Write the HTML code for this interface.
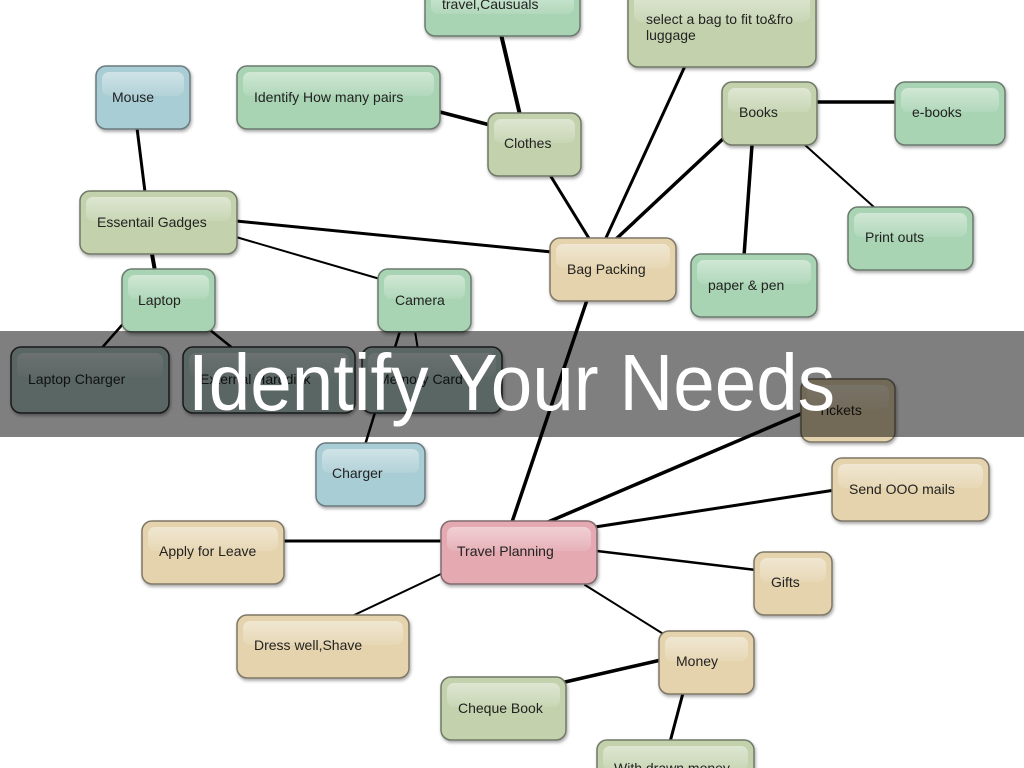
<!DOCTYPE html>
<html><head><meta charset="utf-8"><style>
html,body{margin:0;padding:0;background:#fff;}
svg{display:block;}
text{font-family:"Liberation Sans",sans-serif;}
</style></head><body>
<svg width="1024" height="768" viewBox="0 0 1024 768" xmlns="http://www.w3.org/2000/svg">
<defs>
<linearGradient id="hl" x1="0" y1="0" x2="0" y2="1"><stop offset="0" stop-color="#fff" stop-opacity="0.45"/><stop offset="1" stop-color="#fff" stop-opacity="0.1"/></linearGradient>
<filter id="sh" x="-10%" y="-10%" width="130%" height="140%"><feDropShadow dx="1" dy="2" stdDeviation="1.5" flood-color="#000" flood-opacity="0.35"/></filter>
</defs>
<g stroke="#000" fill="none" stroke-linecap="round">
<line x1="500" y1="30" x2="520" y2="115" stroke-width="4"/>
<line x1="440" y1="112" x2="490" y2="125" stroke-width="3.5"/>
<line x1="550" y1="175" x2="590" y2="240" stroke-width="3"/>
<line x1="685" y1="66" x2="605" y2="240" stroke-width="3"/>
<line x1="725" y1="137" x2="615" y2="240" stroke-width="3.5"/>
<line x1="815" y1="102" x2="897" y2="102" stroke-width="3.5"/>
<line x1="752" y1="145" x2="744" y2="256" stroke-width="3.5"/>
<line x1="805" y1="145" x2="875" y2="208" stroke-width="2"/>
<line x1="137" y1="128" x2="145" y2="192" stroke-width="3"/>
<line x1="236" y1="221" x2="552" y2="252" stroke-width="3"/>
<line x1="236" y1="237" x2="380" y2="279" stroke-width="2"/>
<line x1="152" y1="254" x2="155" y2="271" stroke-width="4"/>
<line x1="122" y1="325" x2="100" y2="350" stroke-width="2.5"/>
<line x1="210" y1="330" x2="235" y2="350" stroke-width="2.5"/>
<line x1="400" y1="331" x2="365" y2="445" stroke-width="2.5"/>
<line x1="415" y1="331" x2="418" y2="350" stroke-width="2"/>
<line x1="587" y1="300" x2="512" y2="522" stroke-width="3.5"/>
<line x1="548" y1="522" x2="810" y2="410" stroke-width="3.5"/>
<line x1="595" y1="527" x2="835" y2="490" stroke-width="3"/>
<line x1="283" y1="541" x2="443" y2="541" stroke-width="3"/>
<line x1="597" y1="551" x2="756" y2="570" stroke-width="2.5"/>
<line x1="443" y1="573" x2="350" y2="617" stroke-width="2"/>
<line x1="585" y1="585" x2="665" y2="635" stroke-width="2"/>
<line x1="565" y1="682" x2="661" y2="660" stroke-width="3.5"/>
<line x1="683" y1="693" x2="670" y2="742" stroke-width="3"/>
</g>
<g font-size="14" fill="#222">
<g filter="url(#sh)">
<rect x="425" y="-12" width="155" height="48" rx="10" fill="#a9d4b3" stroke="#6b7a6e" stroke-width="1.5"/>
<rect x="628" y="-12" width="188" height="79" rx="10" fill="#c3d2ad" stroke="#6f7866" stroke-width="1.5"/>
<rect x="96" y="66" width="94" height="63" rx="10" fill="#a9cdd4" stroke="#6a7a7e" stroke-width="1.5"/>
<rect x="237" y="66" width="203" height="63" rx="10" fill="#a9d4b3" stroke="#6b7a6e" stroke-width="1.5"/>
<rect x="488" y="113" width="93" height="63" rx="10" fill="#c3d2ad" stroke="#6f7866" stroke-width="1.5"/>
<rect x="722" y="82" width="95" height="63" rx="10" fill="#c3d2ad" stroke="#6f7866" stroke-width="1.5"/>
<rect x="895" y="82" width="110" height="63" rx="10" fill="#a9d4b3" stroke="#6b7a6e" stroke-width="1.5"/>
<rect x="80" y="191" width="157" height="63" rx="10" fill="#c3d2ad" stroke="#6f7866" stroke-width="1.5"/>
<rect x="550" y="238" width="126" height="63" rx="10" fill="#e4d3ad" stroke="#7f7766" stroke-width="1.5"/>
<rect x="848" y="207" width="125" height="63" rx="10" fill="#a9d4b3" stroke="#6b7a6e" stroke-width="1.5"/>
<rect x="691" y="254" width="126" height="63" rx="10" fill="#a9d4b3" stroke="#6b7a6e" stroke-width="1.5"/>
<rect x="122" y="269" width="93" height="63" rx="10" fill="#a9d4b3" stroke="#6b7a6e" stroke-width="1.5"/>
<rect x="378" y="269" width="93" height="63" rx="10" fill="#a9d4b3" stroke="#6b7a6e" stroke-width="1.5"/>
<rect x="11" y="347" width="158" height="66" rx="10" fill="#b4ccc8" stroke="#333" stroke-width="1.5"/>
<rect x="183" y="347" width="172" height="66" rx="10" fill="#b4ccc8" stroke="#333" stroke-width="1.5"/>
<rect x="362" y="347" width="140" height="66" rx="10" fill="#b4ccc8" stroke="#333" stroke-width="1.5"/>
<rect x="801" y="379" width="94" height="63" rx="10" fill="#e4d3ad" stroke="#7f7766" stroke-width="1.5"/>
<rect x="316" y="443" width="109" height="63" rx="10" fill="#a9cdd4" stroke="#6a7a7e" stroke-width="1.5"/>
<rect x="832" y="458" width="157" height="63" rx="10" fill="#e4d3ad" stroke="#7f7766" stroke-width="1.5"/>
<rect x="142" y="521" width="142" height="63" rx="10" fill="#e4d3ad" stroke="#7f7766" stroke-width="1.5"/>
<rect x="441" y="521" width="156" height="63" rx="10" fill="#e4a9b1" stroke="#806a6e" stroke-width="1.5"/>
<rect x="754" y="552" width="78" height="63" rx="10" fill="#e4d3ad" stroke="#7f7766" stroke-width="1.5"/>
<rect x="237" y="615" width="172" height="63" rx="10" fill="#e4d3ad" stroke="#7f7766" stroke-width="1.5"/>
<rect x="659" y="631" width="95" height="63" rx="10" fill="#e4d3ad" stroke="#7f7766" stroke-width="1.5"/>
<rect x="441" y="677" width="125" height="63" rx="10" fill="#c3d2ad" stroke="#6f7866" stroke-width="1.5"/>
<rect x="597" y="740" width="157" height="50" rx="10" fill="#c3d2ad" stroke="#6f7866" stroke-width="1.5"/>
</g>
<g fill="url(#hl)">
<rect x="431" y="-8" width="143" height="22" rx="7"/>
<rect x="634" y="-6" width="176" height="28" rx="7"/>
<rect x="102" y="72" width="82" height="24" rx="7"/>
<rect x="243" y="72" width="191" height="24" rx="7"/>
<rect x="494" y="119" width="81" height="24" rx="7"/>
<rect x="728" y="88" width="83" height="24" rx="7"/>
<rect x="901" y="88" width="98" height="24" rx="7"/>
<rect x="86" y="197" width="145" height="24" rx="7"/>
<rect x="556" y="244" width="114" height="24" rx="7"/>
<rect x="854" y="213" width="113" height="24" rx="7"/>
<rect x="697" y="260" width="114" height="24" rx="7"/>
<rect x="128" y="275" width="81" height="24" rx="7"/>
<rect x="384" y="275" width="81" height="24" rx="7"/>
<rect x="17" y="353" width="146" height="24" rx="7"/>
<rect x="189" y="353" width="160" height="24" rx="7"/>
<rect x="368" y="353" width="128" height="24" rx="7"/>
<rect x="807" y="385" width="82" height="24" rx="7"/>
<rect x="322" y="449" width="97" height="24" rx="7"/>
<rect x="838" y="464" width="145" height="24" rx="7"/>
<rect x="148" y="527" width="130" height="24" rx="7"/>
<rect x="447" y="527" width="144" height="24" rx="7"/>
<rect x="760" y="558" width="66" height="24" rx="7"/>
<rect x="243" y="621" width="160" height="24" rx="7"/>
<rect x="665" y="637" width="83" height="24" rx="7"/>
<rect x="447" y="683" width="113" height="24" rx="7"/>
<rect x="603" y="746" width="145" height="24" rx="7"/>
</g>
<text x="442" y="9">travel,Causuals</text>
<text x="646" y="24">select a bag to fit to&amp;fro</text>
<text x="646" y="40">luggage</text>
<text x="112" y="102">Mouse</text>
<text x="254" y="102">Identify How many pairs</text>
<text x="504" y="148">Clothes</text>
<text x="739" y="117">Books</text>
<text x="912" y="117">e-books</text>
<text x="97" y="227">Essentail Gadges</text>
<text x="567" y="274">Bag Packing</text>
<text x="865" y="242">Print outs</text>
<text x="708" y="290">paper &amp; pen</text>
<text x="138" y="305">Laptop</text>
<text x="395" y="305">Camera</text>
<text x="28" y="384">Laptop Charger</text>
<text x="200" y="384">External Harddisk</text>
<text x="378" y="384">Memory Card</text>
<text x="818" y="415">Tickets</text>
<text x="332" y="478">Charger</text>
<text x="849" y="494">Send OOO mails</text>
<text x="159" y="556">Apply for Leave</text>
<text x="457" y="556">Travel Planning</text>
<text x="771" y="587">Gifts</text>
<text x="254" y="650">Dress well,Shave</text>
<text x="676" y="666">Money</text>
<text x="458" y="713">Cheque Book</text>
<text x="614" y="773">With drawn money</text>
</g>
<rect x="0" y="331" width="1024" height="106" fill="#000" fill-opacity="0.5"/>
<text x="188" y="410" font-size="80" fill="#fff" textLength="647" lengthAdjust="spacingAndGlyphs">Identify Your Needs</text>
</svg>
</body></html>
